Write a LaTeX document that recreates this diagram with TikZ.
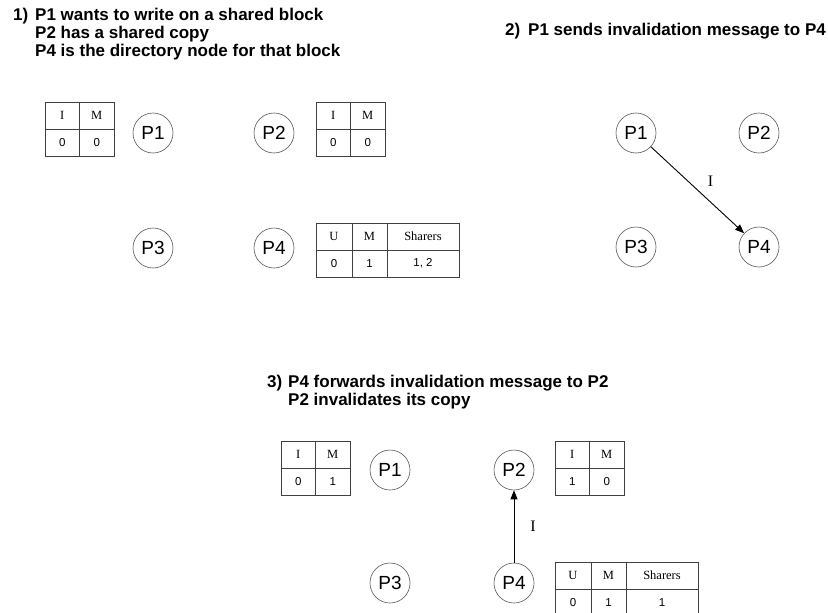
\documentclass[tikz,border=0pt]{standalone}
\usepackage{fontspec}
\usetikzlibrary{arrows.meta,positioning}
\newfontfamily\arialfont{Liberation Sans}
\newfontfamily\tnrfont{Liberation Serif}

\tikzset{
  proc/.style={circle, draw=black!65, line width=0.6pt, minimum size=40pt,
    inner sep=0pt, font=\arialfont\fontsize{19}{19}\selectfont},
  cell/.style={draw=black!75, line width=0.7pt, inner sep=0pt,
    minimum height=27pt, font=\tnrfont\fontsize{12.5}{12.5}\selectfont},
  num/.style={cell, font=\arialfont\fontsize{11.5}{11.5}\selectfont},
  title/.style={anchor=base west, inner sep=0pt, align=left,
    font=\arialfont\bfseries\fontsize{17}{18.3}\selectfont},
  msg/.style={-{Triangle[length=9pt,width=7pt]}, line width=0.9pt, black},
  msglabel/.style={font=\tnrfont\fontsize{16}{16}\selectfont, inner sep=0pt}
}

% two-column I/M status table, top-left corner at (#2,#3)
\newcommand{\imtable}[6]{%
  \node[cell, minimum width=34.5pt] (#1-ih) at (#2+17.25, #3+13.5) {I};
  \node[cell, minimum width=34.5pt] (#1-mh) at (#2+51.75, #3+13.5) {M};
  \node[num,  minimum width=34.5pt] (#1-iv) at (#2+17.25, #3+40.5) {#4};
  \node[num,  minimum width=34.5pt] (#1-mv) at (#2+51.75, #3+40.5) {#5};
}
% directory entry table, top-left corner at (#2,#3)
\newcommand{\dirtable}[6]{%
  \node[cell, minimum width=36pt] (#1-uh) at (#2+18,  #3+13.5) {U};
  \node[cell, minimum width=35pt] (#1-mh) at (#2+53.5, #3+13.5) {M};
  \node[cell, minimum width=72pt] (#1-sh) at (#2+107, #3+13.5) {Sharers};
  \node[num,  minimum width=36pt] (#1-uv) at (#2+18,  #3+40.5) {#4};
  \node[num,  minimum width=35pt] (#1-mv) at (#2+53.5, #3+40.5) {#5};
  \node[num,  minimum width=72pt] (#1-sv) at (#2+107, #3+40.5) {#6};
}

\begin{document}
\begin{tikzpicture}[x=1pt, y=-1pt]
\clip (0,0) rectangle (828,613);
\fill[white] (0,0) rectangle (828,613);

% ---------- step 1 ----------
\node[title] (t1n) at (13,20) {1)};
\node[title, anchor=north west] (t1) at (35,20-12.2)
  {P1 wants to write on a shared block\\P2 has a shared copy\\P4 is the directory node for that block};

\node[proc] (a1) at (153,133) {P1};
\node[proc] (a2) at (274,133) {P2};
\node[proc] (a3) at (153,248) {P3};
\node[proc] (a4) at (274,248) {P4};
\imtable{ta1}{45}{102}{0}{0}{}
\imtable{ta2}{316}{102}{0}{0}{}
\dirtable{da4}{316}{223}{0}{1}{1, 2}

% ---------- step 2 ----------
\node[title] (t2n) at (505,35) {2)};
\node[title] (t2) at (528,35) {P1 sends invalidation message to P4};

\node[proc] (b1) at (636,133) {P1};
\node[proc] (b2) at (759,133) {P2};
\node[proc] (b3) at (636,247) {P3};
\node[proc] (b4) at (759,247) {P4};
\draw[msg] (b1) -- node[msglabel, above right=3pt and 10pt] (lb) {I} (b4);

% ---------- step 3 ----------
\node[title] (t3n) at (267,387) {3)};
\node[title, anchor=north west] (t3) at (288,387-12.2)
  {P4 forwards invalidation message to P2\\P2 invalidates its copy};

\node[proc] (c1) at (390,470) {P1};
\node[proc] (c2) at (514,470) {P2};
\node[proc] (c3) at (390,583) {P3};
\node[proc] (c4) at (514,583) {P4};
\imtable{tc1}{281}{441}{0}{1}{}
\imtable{tc2}{555}{441}{1}{0}{}
\dirtable{dc4}{555}{562}{0}{1}{1}
\draw[msg] (c4) -- node[msglabel, right=16pt] (lc) {I} (c2);
\end{tikzpicture}
\end{document}
